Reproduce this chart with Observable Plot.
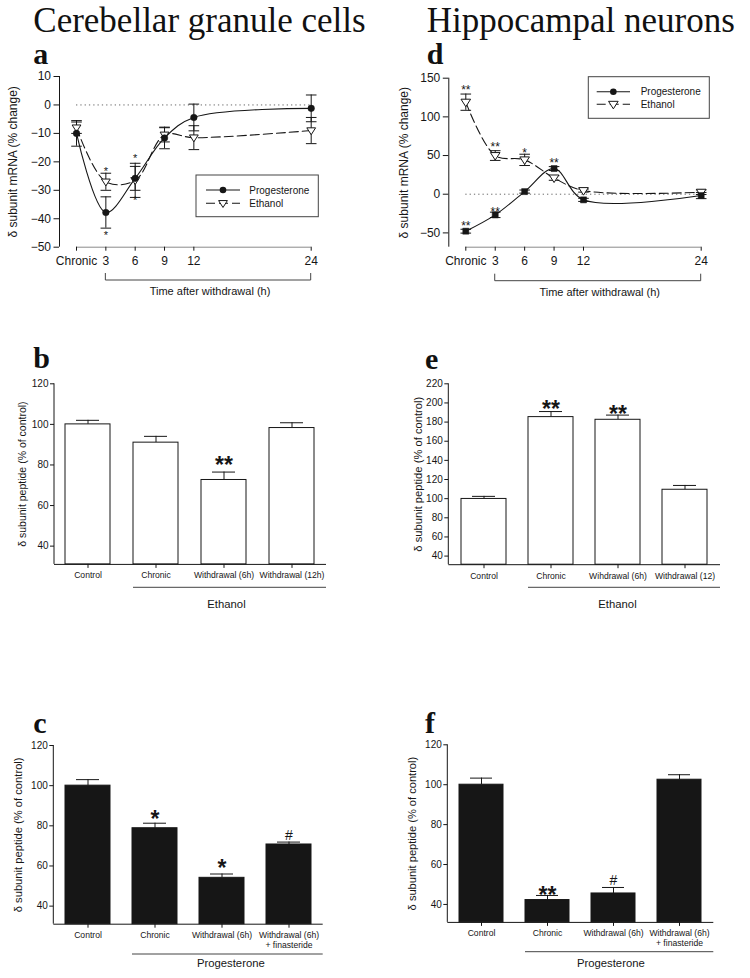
<!DOCTYPE html>
<html>
<head>
<meta charset="utf-8">
<script src="https://cdn.jsdelivr.net/npm/d3@7"></script>
<script src="https://cdn.jsdelivr.net/npm/@observablehq/plot@0.6"></script>
<style>
html,body{margin:0;padding:0;background:#fff;}
#page{position:relative;width:750px;height:978px;overflow:hidden;background:#fff;}
</style>
</head>
<body>
<div id="page"></div>
<script>
// ---------- DATA ----------
const hours = [0, 3, 6, 9, 12, 24];
const hourLabels = ["Chronic", "3", "6", "9", "12", "24"];

// panel a: cerebellar granule cells, delta subunit mRNA (% change)
const aProgesterone    = [-10, -37.8, -25.8, -11.6, -4.4, -1.2];
const aProgesteroneErr = [4.5, 5.5, 4.2, 3.8, 4.7, 4.7];
const aEthanol         = [-8, -27, -26.5, -10.5, -11.5, -9];
const aEthanolErr      = [2, 3, 6, 2.5, 4.2, 4.6];
const aMarks = [
  {h: 3, v: -22.3, t: "*"}, {h: 3, v: -45, t: "*"},
  {h: 6, v: -17.8, t: "*"}, {h: 6, v: -32.7, t: "*"}
];

// panel d: hippocampal neurons, delta subunit mRNA (% change)
const dProgesterone    = [-47.8, -26.7, 3.4, 33.2, -7.3, -1.7];
const dProgesteroneErr = [2.5, 3.5, 2, 2.5, 2, 4];
const dEthanol         = [119, 50, 44.4, 21, 4.7, 2.6];
const dEthanolErr      = [10.5, 6.3, 7.3, 3, 2, 3];
const dMarks = [
  {h: 0, v: 138.4, t: "**"}, {h: 0, v: -37.5, t: "**"},
  {h: 3, v: 64.3, t: "**"}, {h: 3, v: -19.8, t: "**"},
  {h: 6, v: 57, t: "*"}, {h: 9, v: 44.4, t: "**"}
];

// panel b: cerebellar, ethanol, peptide
const bCategories = ["Control", "Chronic", "Withdrawal (6h)", "Withdrawal (12h)"];
const bValues = [100, 91, 72.6, 98.2];
const bErrors = [2, 3.1, 3.9, 2.6];
const bMarks = [{c: "Withdrawal (6h)", v: 82.7, t: "**"}];

// panel e: hippocampal, ethanol, peptide
const eCategories = ["Control", "Chronic", "Wihdrawal (6h)", "Withdrawal (12)"];
const eValues = [99.7, 185.2, 182.4, 109.3];
const eErrors = [2.7, 5.8, 4.9, 4.5];
const eMarks = [{c: "Chronic", v: 199.4, t: "**"}, {c: "Wihdrawal (6h)", v: 194.3, t: "**"}];

// panel c: cerebellar, progesterone, peptide
const cCategories = ["Control", "Chronic", "Withdrawal (6h)", "Withdrawal (6h)\n+ finasteride"];
const cValues = [100, 78.8, 54.1, 70.7];
const cErrors = [3, 2.5, 1.9, 1.2];
const cMarks = [
  {c: "Chronic", v: 86, t: "*"}, {c: "Withdrawal (6h)", v: 61.4, t: "*"},
  {c: "Withdrawal (6h)\n+ finasteride", v: 75.2, t: "#"}
];

// panel f: hippocampal, progesterone, peptide
const fCategories = ["Control", "Chronic", "Withdrawal (6h)", "Withdrawal (6h)\n+ finasteride"];
const fValues = [100, 42.2, 45.5, 102.5];
const fErrors = [3.3, 2.3, 3, 2.5];
const fMarks = [{c: "Chronic", v: 47.4, t: "**"}, {c: "Withdrawal (6h)", v: 52.4, t: "#"}];

const columnTitles = ["Cerebellar granule cells", "Hippocampal neurons"];
const panelLetters = ["a", "b", "c", "d", "e", "f"];
const timeAxisTitle = "Time after withdrawal (h)";
const mrnaLabel = "\u03b4 subunit mRNA (% change)";
const peptideLabel = "\u03b4 subunit peptide (% of control)";
const seriesNames = ["Progesterone", "Ethanol"];

// ---------- STYLE / HELPERS ----------
const FONT = "'Liberation Sans', Arial, Helvetica, sans-serif";
const SERIF = "'Liberation Serif', 'Times New Roman', Times, serif";
const INK = "#161616";
const page = document.getElementById("page");

const capSymbol = {draw(ctx, size) { const r = Math.sqrt(size / Math.PI); ctx.moveTo(-r, 0); ctx.lineTo(r, 0); }};
const triangleDown = {draw(ctx, size) {
  const r = Math.sqrt(size / Math.PI);
  ctx.moveTo(-r, -0.62 * r); ctx.lineTo(r, -0.62 * r); ctx.lineTo(0, 0.95 * r); ctx.closePath();
}};

function mount(svg, left, top) {
  svg.style.position = "absolute";
  svg.style.left = left + "px";
  svg.style.top = top + "px";
  page.appendChild(svg);
}

function timePanel(cfg) {
  const prog = hours.map((h, i) => ({h, v: cfg.prog[i], e: cfg.progErr[i]}));
  const eth = hours.map((h, i) => ({h, v: cfg.eth[i], e: cfg.ethErr[i]}));
  const yMin = cfg.yDomain[0], yMax = cfg.yDomain[1];
  const errMarks = (data) => [
    Plot.ruleX(data, {x: "h", y1: d => d.v - d.e, y2: d => d.v + d.e, stroke: INK, strokeWidth: 1}),
    Plot.dot(data, {x: "h", y: d => d.v + d.e, symbol: capSymbol, r: 5.3, stroke: INK, strokeWidth: 1}),
    Plot.dot(data, {x: "h", y: d => d.v - d.e, symbol: capSymbol, r: 5.3, stroke: INK, strokeWidth: 1})
  ];
  const svg = Plot.plot({
    width: cfg.width, height: cfg.height,
    marginLeft: cfg.ml, marginRight: cfg.mr, marginTop: cfg.mt, marginBottom: cfg.mb,
    style: {fontFamily: FONT, fontSize: "12px", color: INK, background: "transparent"},
    x: {type: "linear", domain: cfg.xDomain},
    y: {type: "linear", domain: cfg.yDomain},
    marks: [
      Plot.ruleY([0], {x1: hours[0], x2: hours[hours.length - 1], stroke: "#6a6a6a", strokeWidth: 1, strokeDasharray: "1.3,3"}),
      Plot.ruleY([yMin], {x1: hours[0], x2: hours[hours.length - 1], stroke: "#8a8a8a", strokeWidth: 1}),
      Plot.ruleX([cfg.xDomain[0]], {y1: yMin, y2: yMax, stroke: INK, strokeWidth: 1}),
      Plot.axisX({ticks: hours, tickFormat: d => hourLabels[hours.indexOf(d)], tickSize: 4, tickPadding: 5, fontSize: 12, label: null}),
      Plot.axisY({ticks: cfg.yTicks, tickSize: 5.5, tickPadding: 3, fontSize: 12, label: null}),
      Plot.text([cfg.yLabel], {text: d => d, frameAnchor: "left", textAnchor: "middle", lineAnchor: "middle", rotate: -90, dx: cfg.yLabelDx, fontSize: 12, fill: INK}),
      ...errMarks(eth),
      ...errMarks(prog),
      Plot.line(eth, {x: "h", y: "v", curve: "catmull-rom", stroke: INK, strokeWidth: 1.1, strokeDasharray: "9,4"}),
      Plot.line(prog, {x: "h", y: "v", curve: "catmull-rom", stroke: INK, strokeWidth: 1.1}),
      Plot.dot(eth, {x: "h", y: "v", symbol: triangleDown, r: cfg.triR, fill: "white", stroke: INK, strokeWidth: 1}),
      Plot.dot(prog, {x: "h", y: "v", symbol: cfg.progSymbol, r: cfg.progR, fill: INK, stroke: INK, strokeWidth: 0.5}),
      Plot.text(cfg.marks, {x: "h", y: "v", text: "t", fontSize: cfg.markSize, dy: cfg.markSize * 0.25, fill: INK})
    ]
  });
  const sx = svg.scale("x"), sy = svg.scale("y");
  const g = d3.select(svg).append("g").attr("font-family", FONT).attr("fill", INK);
  // bracket under the withdrawal time points
  const bx0 = sx.apply(hours[1]), bx1 = sx.apply(hours[hours.length - 1]);
  const by = sy.apply(yMin) + cfg.bracketDy;
  g.append("path").attr("d", `M${bx0},${by - 7}V${by}H${bx1}V${by - 7}`)
    .attr("fill", "none").attr("stroke", "#444").attr("stroke-width", 1);
  g.append("text").attr("x", (bx0 + bx1) / 2 + 2).attr("y", by + 15)
    .attr("text-anchor", "middle").attr("font-size", "11px").text(timeAxisTitle);
  // legend
  const L = cfg.legend;
  g.append("rect").attr("x", L.x).attr("y", L.y).attr("width", L.w).attr("height", L.h)
    .attr("fill", "white").attr("stroke", "#444").attr("stroke-width", 1);
  L.rows.forEach((ry, i) => {
    const line = g.append("line").attr("x1", L.lx0).attr("x2", L.lx1).attr("y1", ry).attr("y2", ry)
      .attr("stroke", INK).attr("stroke-width", 1.1);
    const mx = (L.lx0 + L.lx1) / 2;
    if (i === 0) {
      g.append("circle").attr("cx", mx).attr("cy", ry).attr("r", 3.3).attr("fill", INK);
    } else {
      line.attr("stroke-dasharray", "9,4");
      const p = d3.path();
      triangleDown.draw(p, Math.PI * cfg.triR * cfg.triR);
      g.append("path").attr("d", p.toString()).attr("transform", `translate(${mx},${ry})`)
        .attr("fill", "white").attr("stroke", INK);
    }
    g.append("text").attr("x", L.tx).attr("y", ry + 3.6).attr("text-anchor", "start")
      .attr("font-size", "10px").text(seriesNames[i]);
  });
  mount(svg, cfg.left, cfg.top);
}

function barPanel(cfg) {
  const data = cfg.cats.map((c, i) => ({c, v: cfg.vals[i], e: cfg.errs[i]}));
  const yMin = cfg.yDomain[0];
  const stars = cfg.marks.filter(d => d.t.includes("*"));
  const hashes = cfg.marks.filter(d => d.t === "#");
  const svg = Plot.plot({
    width: cfg.width, height: cfg.height,
    marginLeft: cfg.ml, marginRight: cfg.mr, marginTop: cfg.mt, marginBottom: cfg.mb,
    style: {fontFamily: FONT, fontSize: "10px", color: INK, background: "transparent"},
    x: {type: "band", domain: cfg.cats, paddingInner: 1 / 3, paddingOuter: 1 / 6},
    y: {type: "linear", domain: cfg.yDomain},
    marks: [
      Plot.ruleX(data, {x: "c", y1: "v", y2: d => d.v + d.e, stroke: INK, strokeWidth: 1}),
      Plot.tickY(data, {x: "c", y: d => d.v + d.e, insetLeft: 11, insetRight: 11, stroke: INK, strokeWidth: 1}),
      Plot.barY(data, {x: "c", y1: yMin, y2: "v", fill: cfg.fill, stroke: INK, strokeWidth: 1}),
      Plot.ruleY([yMin], {stroke: INK, strokeWidth: 1}),
      Plot.axisX({tickSize: 4, tickPadding: 3, fontSize: 8.6, lineHeight: 1.16, label: null}),
      Plot.axisY({ticks: cfg.yTicks, tickSize: 4, tickPadding: 2, fontSize: 10, label: null}),
      Plot.text([cfg.yLabel], {text: d => d, frameAnchor: "left", textAnchor: "middle", lineAnchor: "middle", rotate: -90, dx: cfg.yLabelDx, fontSize: cfg.yLabelSize, fill: INK}),
      Plot.text(stars, {x: "c", y: "v", text: "t", fontSize: 23, fontWeight: "bold", dy: 5.8, fill: INK}),
      Plot.text(hashes, {x: "c", y: "v", text: "t", fontSize: 14, dy: 0.5, fill: INK})
    ]
  });
  const sx = svg.scale("x"), sy = svg.scale("y");
  const g = d3.select(svg).append("g").attr("font-family", FONT).attr("fill", INK);
  // y axis line
  g.append("line").attr("x1", sx.range[0]).attr("x2", sx.range[0])
    .attr("y1", sy.apply(d3.max(cfg.yTicks))).attr("y2", sy.apply(yMin))
    .attr("stroke", INK).attr("stroke-width", 1);
  // treatment group line + label
  const gx0 = sx.apply(cfg.cats[1]), gx1 = sx.range[1];
  const gy = sy.apply(yMin) + cfg.groupDy;
  g.append("line").attr("x1", gx0).attr("x2", gx1).attr("y1", gy).attr("y2", gy)
    .attr("stroke", "#444").attr("stroke-width", 1);
  g.append("text").attr("x", (gx0 + gx1) / 2 + cfg.groupTextDx).attr("y", gy + cfg.groupTextDy)
    .attr("text-anchor", "middle").attr("font-size", "11.3px").text(cfg.group);
  mount(svg, cfg.left, cfg.top);
}

// ---------- PANELS ----------
timePanel({
  left: 0, top: 60, width: 370, height: 245, ml: 59, mr: 59.3, mt: 16, mb: 58.3,
  xDomain: [-1.74, 24], yDomain: [-50, 10], yTicks: [-50, -40, -30, -20, -10, 0, 10],
  prog: aProgesterone, progErr: aProgesteroneErr, eth: aEthanol, ethErr: aEthanolErr,
  progSymbol: "circle", progR: 3.3, triR: 4.4, marks: aMarks, markSize: 11,
  yLabel: mrnaLabel, yLabelDx: -46, bracketDy: 33.3,
  legend: {x: 196, y: 115, w: 122.3, h: 41.7, rows: [130, 143.3], lx0: 206, lx1: 240, tx: 249.3}
});

timePanel({
  left: 370, top: 60, width: 380, height: 245, ml: 78.3, mr: 49.3, mt: 17.7, mb: 58.3,
  xDomain: [-1.733, 24], yDomain: [-68.5, 150], yTicks: [-50, 0, 50, 100, 150],
  prog: dProgesterone, progErr: dProgesteroneErr, eth: dEthanol, ethErr: dEthanolErr,
  progSymbol: "square", progR: 3.4, triR: 4.8, marks: dMarks, markSize: 12,
  yLabel: mrnaLabel, yLabelDx: -45, bracketDy: 34,
  legend: {x: 218.3, y: 16.7, w: 121, h: 41.6, rows: [31.7, 44.3], lx0: 226.7, lx1: 260, tx: 270.7}
});

barPanel({
  left: 0, top: 360, width: 370, height: 255, ml: 54, mr: 44, mt: 23.3, mb: 51.1,
  cats: bCategories, vals: bValues, errs: bErrors, marks: bMarks, fill: "white",
  yDomain: [31, 120], yTicks: [40, 60, 80, 100, 120],
  yLabel: peptideLabel, yLabelDx: -32.3, yLabelSize: 10.5,
  group: "Ethanol", groupDy: 23.4, groupTextDy: 20.7, groupTextDx: -3
});

barPanel({
  left: 370, top: 360, width: 380, height: 255, ml: 78.3, mr: 30, mt: 23.3, mb: 50.8,
  cats: eCategories, vals: eValues, errs: eErrors, marks: eMarks, fill: "white",
  yDomain: [31, 220], yTicks: [40, 60, 80, 100, 120, 140, 160, 180, 200, 220],
  yLabel: peptideLabel, yLabelDx: -30, yLabelSize: 11.2,
  group: "Ethanol", groupDy: 23.1, groupTextDy: 20.7, groupTextDx: -6.5
});

barPanel({
  left: 0, top: 720, width: 370, height: 258, ml: 53.3, mr: 47.3, mt: 25, mb: 54.3,
  cats: cCategories, vals: cValues, errs: cErrors, marks: cMarks, fill: INK,
  yDomain: [31, 120], yTicks: [40, 60, 80, 100, 120],
  yLabel: peptideLabel, yLabelDx: -35, yLabelSize: 11.2,
  group: "Progesterone", groupDy: 30.3, groupTextDy: 13.3, groupTextDx: 3.5
});

barPanel({
  left: 370, top: 720, width: 380, height: 258, ml: 77.3, mr: 36.7, mt: 24.3, mb: 56.1,
  cats: fCategories, vals: fValues, errs: fErrors, marks: fMarks, fill: INK,
  yDomain: [31, 120], yTicks: [40, 60, 80, 100, 120],
  yLabel: peptideLabel, yLabelDx: -35.6, yLabelSize: 11.1,
  group: "Progesterone", groupDy: 29.8, groupTextDy: 15, groupTextDx: -8.3
});

// ---------- TITLES AND PANEL LETTERS ----------
const overlay = d3.create("svg").attr("width", 750).attr("height", 978)
  .style("position", "absolute").style("left", "0px").style("top", "0px").style("pointer-events", "none");
const titlePos = [[33.3, 31.7], [426.7, 31.7]];
columnTitles.forEach((t, i) => {
  overlay.append("text").attr("x", titlePos[i][0]).attr("y", titlePos[i][1])
    .attr("font-family", SERIF).attr("font-size", "35px").attr("fill", "#111").text(t);
});
const letterPos = [[33.3, 64], [33.3, 368.3], [33.3, 733.3], [426.7, 64], [425, 369], [425, 733.3]];
panelLetters.forEach((t, i) => {
  overlay.append("text").attr("x", letterPos[i][0]).attr("y", letterPos[i][1])
    .attr("font-family", SERIF).attr("font-weight", "bold").attr("font-size", "30px").attr("fill", "#111").text(t);
});
page.appendChild(overlay.node());
</script>
</body>
</html>
